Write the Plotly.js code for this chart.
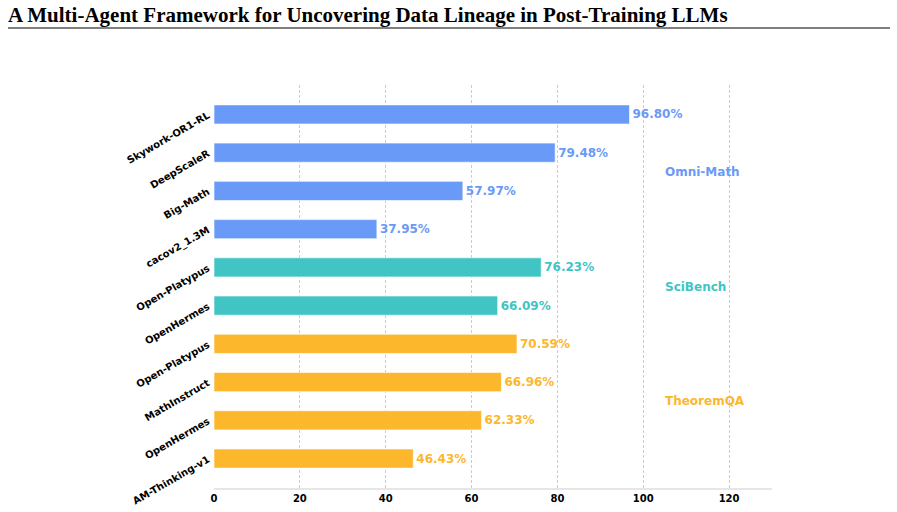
<!DOCTYPE html>
<html><head><meta charset="utf-8">
<script src="https://cdn.plot.ly/plotly-3.0.1.min.js"></script>
<style>html,body{margin:0;padding:0;background:#fff}</style>
</head><body><div id="chart" style="width:897px;height:512px"></div>
<script>
const labels = ["Skywork-OR1-RL","DeepScaleR","Big-Math","cacov2_1.3M","Open-Platypus","OpenHermes","Open-Platypus","MathInstruct","OpenHermes","AM-Thinking-v1"];
const values = [96.80,79.48,57.97,37.95,76.23,66.09,70.59,66.96,62.33,46.43];
const groups = ["Omni-Math","Omni-Math","Omni-Math","Omni-Math","SciBench","SciBench","TheoremQA","TheoremQA","TheoremQA","TheoremQA"];
const groupNames = ["Omni-Math","SciBench","TheoremQA"];
const groupColors = {"Omni-Math":"#6A9AF7","SciBench":"#40C4C4","TheoremQA":"#FDB72D"};

const n = labels.length;
const ypos = labels.map((_, i) => n - 1 - i);
const colors = groups.map(g => groupColors[g]);

const trace = {
  type: 'bar', orientation: 'h',
  x: values, y: ypos,
  width: 0.5,
  marker: {color: colors, line: {color: 'rgba(255,255,255,0.6)', width: 1}},
  text: values.map(v => v.toFixed(2) + '%'),
  textposition: 'outside',
  cliponaxis: false,
  textfont: {family: 'DejaVu Sans', size: 12, color: colors, weight: 'bold'},
  hoverinfo: 'none'
};

const annotations = groupNames.map(g => {
  const idx = ypos.filter((_, i) => groups[i] === g);
  const mid = idx.reduce((a, b) => a + b, 0) / idx.length;
  return {x: 104.6, y: mid, xref: 'x', yref: 'y', text: '<b>' + g + '</b>', showarrow: false,
          xanchor: 'left', yanchor: 'middle',
          font: {family: 'DejaVu Sans', size: 12, color: groupColors[g]}};
});

const layout = {
  width: 897, height: 512,
  margin: {l: 214, r: 125, t: 85, b: 24},
  paper_bgcolor: '#fff', plot_bgcolor: '#fff',
  showlegend: false,
  bargap: 0.5,
  title: {text: '<b>A Multi-Agent Framework for Uncovering Data Lineage in Post-Training LLMs</b>',
          x: 8/897, xanchor: 'left', xref: 'container', y: 0.985, yanchor: 'top', yref: 'container',
          font: {family: 'Liberation Serif', size: 21, color: '#000'}},
  xaxis: {range: [0, 130], tickvals: [0,20,40,60,80,100,120], ticktext: ['0','20','40','60','80','100','120'],
          showgrid: true, gridcolor: '#cccccc', griddash: '3px,2px', gridwidth: 1,
          zeroline: false, showline: true, linecolor: '#e6e6e6', linewidth: 2,
          ticks: '', tickfont: {family: 'DejaVu Sans', size: 10, color: '#000', weight: 'bold'}},
  yaxis: {range: [-0.77, n - 1 + 0.77], tickvals: ypos, ticktext: labels, tickangle: -30,
          showgrid: false, zeroline: false, showline: false, ticks: '', ticklabelstandoff: 5,
          tickfont: {family: 'DejaVu Sans', size: 10, color: '#000', weight: 'bold'}},
  annotations: annotations,
  shapes: [{type: 'line', xref: 'paper', yref: 'paper', x0: (8-214)/558, x1: (890-214)/558,
            y0: (488-28)/403, y1: (488-28)/403, line: {color: '#000', width: 1}}]
};
Plotly.newPlot('chart', [trace], layout, {displayModeBar: false, staticPlot: true});
</script></body></html>
